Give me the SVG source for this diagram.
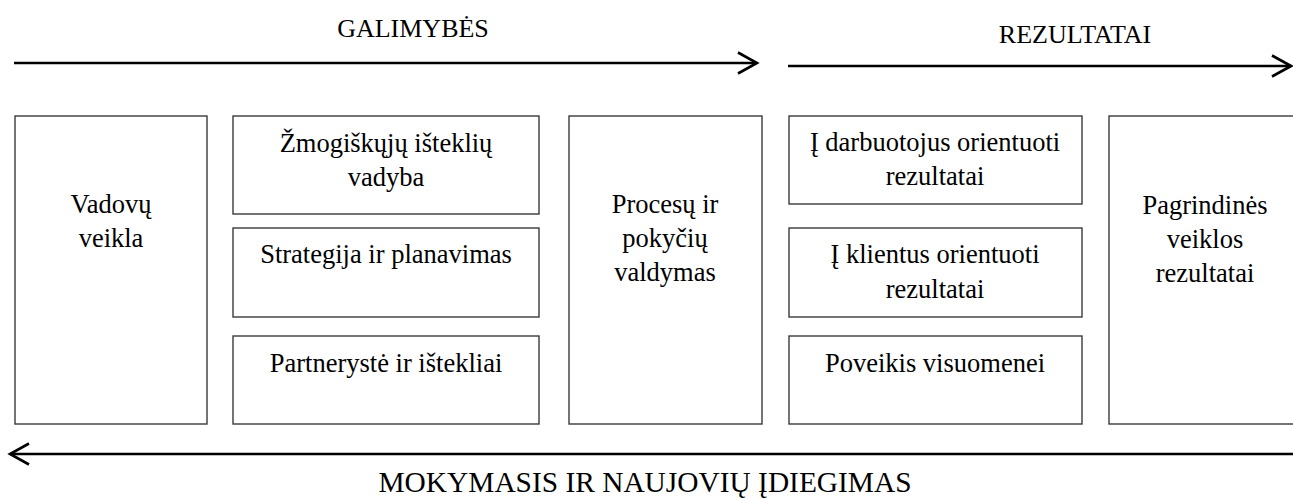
<svg xmlns="http://www.w3.org/2000/svg" width="1293" height="499" viewBox="0 0 1293 499">
<style>
.box{fill:#fff;stroke:#3a3a3a;stroke-width:1.4}
.t{font-family:'Liberation Serif','Times New Roman',Tinos,'DejaVu Serif',serif;font-size:26.5px;fill:#000;text-anchor:middle}
.h{font-family:'Liberation Serif','Times New Roman',Tinos,'DejaVu Serif',serif;font-size:26px;fill:#000;text-anchor:middle}
.b{font-size:29.4px}
.ln{stroke:#000;stroke-width:2.6;fill:none}
</style>
<defs>
<marker id="chev" markerUnits="userSpaceOnUse" markerWidth="40" markerHeight="40" viewBox="-30 -20 40 40" refX="0" refY="0" orient="auto" overflow="visible">
<path d="M-19,-10.5 L0,0 L-19,10.5" fill="none" stroke="#000" stroke-width="2.6"/>
</marker>
</defs>
<g id="connectors">
<line class="ln" x1="14" y1="63" x2="757" y2="63" marker-end="url(#chev)"/>
<line class="ln" x1="788" y1="66" x2="1291" y2="66" marker-end="url(#chev)"/>
<line class="ln" x1="1293" y1="454" x2="10" y2="454" marker-end="url(#chev)"/>
</g>
<g id="labels">
<text class="h" x="413" y="37">GALIMYBĖS</text>
<text class="h" x="1075" y="43">REZULTATAI</text>
<text class="h b" x="645" y="492">MOKYMASIS IR NAUJOVIŲ ĮDIEGIMAS</text>
</g>
<g id="n-vadovu"><rect class="box" x="15" y="116" width="192" height="308"/><text class="t" x="111" y="213">Vadovų</text><text class="t" x="111" y="247">veikla</text></g>
<g id="n-zmogisku"><rect class="box" x="233" y="116" width="306" height="98"/><text class="t" x="386" y="152">Žmogiškųjų išteklių</text><text class="t" x="386" y="186">vadyba</text></g>
<g id="n-strategija"><rect class="box" x="233" y="228" width="306" height="89"/><text class="t" x="386" y="263">Strategija ir planavimas</text></g>
<g id="n-partneryste"><rect class="box" x="233" y="336" width="306" height="88"/><text class="t" x="386" y="372">Partnerystė ir ištekliai</text></g>
<g id="n-procesu"><rect class="box" x="569" y="116" width="193" height="308"/><text class="t" x="665" y="213">Procesų ir</text><text class="t" x="665" y="247">pokyčių</text><text class="t" x="665" y="281">valdymas</text></g>
<g id="n-darbuotojus"><rect class="box" x="789" y="116" width="293" height="88"/><text class="t" x="935" y="151">Į darbuotojus orientuoti</text><text class="t" x="935" y="185">rezultatai</text></g>
<g id="n-klientus"><rect class="box" x="789" y="228" width="293" height="89"/><text class="t" x="935" y="263">Į klientus orientuoti</text><text class="t" x="935" y="298">rezultatai</text></g>
<g id="n-poveikis"><rect class="box" x="789" y="336" width="293" height="88"/><text class="t" x="935" y="372">Poveikis visuomenei</text></g>
<g id="n-pagrindines"><rect class="box" x="1109" y="116" width="192" height="308"/><text class="t" x="1205" y="214">Pagrindinės</text><text class="t" x="1205" y="248">veiklos</text><text class="t" x="1205" y="282">rezultatai</text></g>
</svg>
